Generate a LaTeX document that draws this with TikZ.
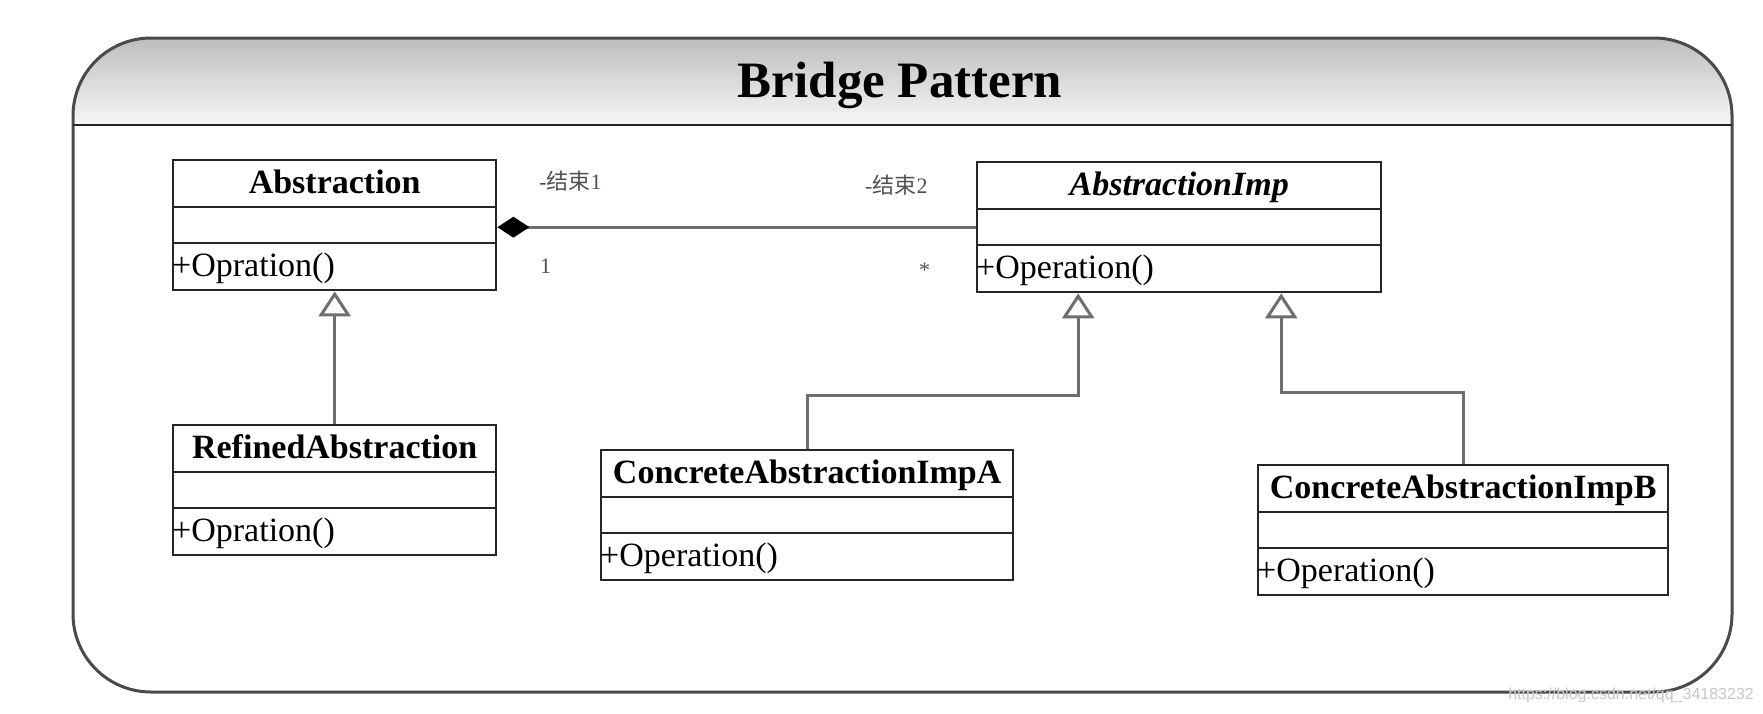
\documentclass[tikz,border=0pt]{standalone}
\usepackage{fontspec}
\setmainfont{Liberation Serif}
\newfontfamily\cjk{Noto Sans CJK SC}
\newfontfamily\wmfont{Liberation Sans}
\usetikzlibrary{arrows.meta}
\definecolor{conngray}{HTML}{6E6E6E}
\definecolor{boxline}{HTML}{262626}
\definecolor{labelgray}{HTML}{505050}
\definecolor{headtop}{HTML}{BDBDBD}
\definecolor{headbot}{HTML}{F7F7F7}
\definecolor{framecol}{HTML}{4A4A4A}
\tikzset{
 classbox/.style={draw=boxline, line width=2.4pt, fill=white, inner sep=0pt},
 classline/.style={draw=boxline, line width=2.4pt},
 titletext/.style={inner sep=0pt, font=\fontsize{34}{40}\selectfont\bfseries},
 optext/.style={inner sep=0pt, font=\fontsize{34}{40}\selectfont},
 endlabel/.style={inner sep=0pt, text=labelgray, font=\fontsize{22}{26}\selectfont},
 conn/.style={draw=conngray, line width=3pt},
 inherit/.style={conn, -{Triangle[open, length=25pt, width=32pt, fill=white]}},
 compose/.style={conn, -{Diamond[length=32pt, width=21pt, fill=black, color=black]}},
}
\newcommand{\umlclass}[6]{%
  \node[classbox, minimum width=#4pt, minimum height=130pt, anchor=north west] (#1) at (#2,#3) {};
  \draw[classline] ([yshift=-48pt]#1.north west) -- ([yshift=-48pt]#1.north east);
  \draw[classline] ([yshift=-84pt]#1.north west) -- ([yshift=-84pt]#1.north east);
  \node[titletext, anchor=base] (#1-title) at ([yshift=-34pt]#1.north) {#5};
  \node[optext, anchor=base west] (#1-op) at ([yshift=15pt]#1.south west) {#6};
}
\begin{document}
\begin{tikzpicture}[x=1pt,y=-1pt]
\useasboundingbox (0,0) rectangle (1763,713);
\fill[white] (0,0) rectangle (1763,713);
% frame with shaded header
\begin{scope}
 \clip[rounded corners=78pt] (73,38) rectangle (1732,692);
 \shade[top color=headtop, bottom color=headbot] (73,38) rectangle (1732,125);
\end{scope}
\draw[framecol, line width=3pt, rounded corners=78pt] (73,38) rectangle (1732,692);
\draw[boxline, line width=2pt] (73,125) -- (1732,125);
\node[font=\fontsize{51}{60}\selectfont\bfseries, anchor=base, inner sep=0pt] (title) at (900,97) {Bridge Pattern};
% classes
\umlclass{abs}{172}{159}{323}{Abstraction}{+Opration()}
\umlclass{imp}{976}{161}{404}{\itshape AbstractionImp}{+Operation()}
\umlclass{ref}{172}{424}{323}{RefinedAbstraction}{+Opration()}
\umlclass{impA}{600}{449}{412}{ConcreteAbstractionImpA}{+Operation()}
\umlclass{impB}{1257}{464}{410}{ConcreteAbstractionImpB}{+Operation()}
% connectors
\draw[compose] (imp.west) -- (imp.west -| abs.east);
\draw[inherit] (ref.north) -- (abs.south);
\coordinate (tA) at ([xshift=-101pt]imp.south);
\coordinate (tB) at ([xshift=102pt]imp.south);
\draw[inherit] (impA.north) -- ++(0,-54) -| (tA);
\draw[inherit] (impB.north) -- ++(0,-72) -| (tB);
% end labels
\node[endlabel, anchor=base west] (e1) at (539,189) {-{\cjk 结束}1};
\node[endlabel, anchor=base west] (m1) at (540,273) {1};
\node[endlabel, anchor=base west] (e2) at (865,193) {-{\cjk 结束}2};
\node[endlabel, anchor=base west] (m2) at (919,277) {*};
% watermark
\node[anchor=base east, inner sep=0pt, text=black!22, font=\wmfont\fontsize{16}{18}\selectfont] (wm) at (1754,699) {https://blog.csdn.net/qq\_34183232};
\end{tikzpicture}
\end{document}
